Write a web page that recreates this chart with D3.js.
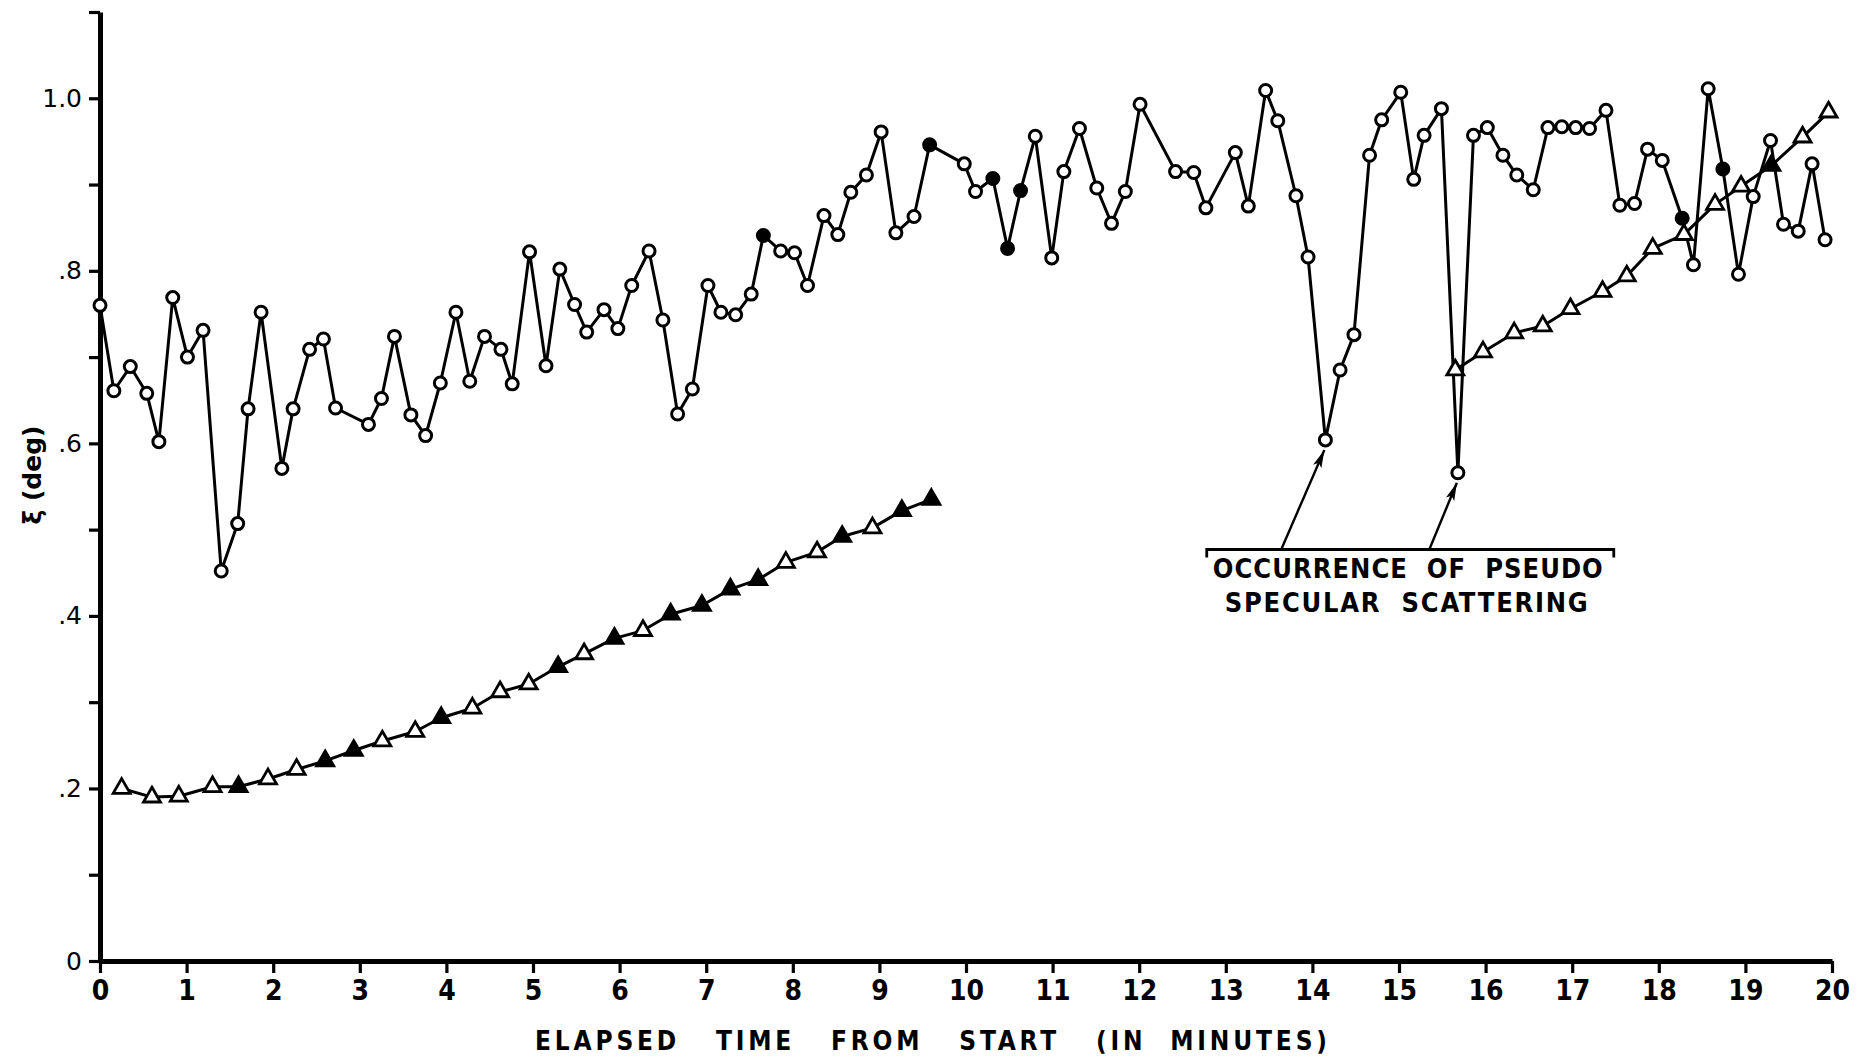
<!DOCTYPE html>
<html>
<head>
<meta charset="utf-8">
<script src="https://cdn.jsdelivr.net/npm/d3@7"></script>
<style>
  html, body { margin: 0; padding: 0; background: #fff; }
  svg { display: block; }
  .tick-y text { font-family: "DejaVu Sans", sans-serif; font-size: 25px; }
  .tick-x text { font-family: "DejaVu Sans Condensed", "Liberation Sans Narrow", "DejaVu Sans", sans-serif; font-size: 28px; font-weight: bold; }
  .label { font-family: "DejaVu Sans Condensed", "Liberation Sans Narrow", "DejaVu Sans", sans-serif; font-weight: bold; white-space: pre; }
</style>
</head>
<body>
<svg id="chart"></svg>
<script>
// Scattering angle series (open circles)
const circleTimes = [0, 0.16, 0.35, 0.54, 0.68, 0.84, 1.01, 1.19, 1.40, 1.59,
  1.71, 1.86, 2.10, 2.23, 2.42, 2.58, 2.72, 3.10, 3.25, 3.40,
  3.59, 3.76, 3.93, 4.11, 4.27, 4.44, 4.63, 4.76, 4.96, 5.15,
  5.31, 5.48, 5.62, 5.82, 5.98, 6.14, 6.34, 6.50, 6.67, 6.84,
  7.02, 7.17, 7.34, 7.52, 7.66, 7.86, 8.02, 8.17, 8.36, 8.52,
  8.67, 8.85, 9.02, 9.19, 9.40, 9.58, 9.98, 10.11, 10.31, 10.48,
  10.63, 10.80, 10.99, 11.13, 11.31, 11.51, 11.68, 11.84, 12.01, 12.42,
  12.63, 12.77, 13.11, 13.26, 13.46, 13.60, 13.81, 13.95, 14.15, 14.32,
  14.48, 14.66, 14.80, 15.02, 15.17, 15.29, 15.49, 15.68, 15.86, 16.02,
  16.20, 16.36, 16.55, 16.72, 16.88, 17.04, 17.20, 17.39, 17.55, 17.72,
  17.87, 18.04, 18.27, 18.40, 18.57, 18.74, 18.92, 19.09, 19.29, 19.44,
  19.61, 19.77, 19.92];
const circleValues = [0.760, 0.661, 0.689, 0.658, 0.602, 0.769, 0.700, 0.731, 0.452, 0.507,
  0.640, 0.752, 0.571, 0.640, 0.709, 0.721, 0.641, 0.622, 0.652, 0.724,
  0.633, 0.609, 0.670, 0.752, 0.672, 0.724, 0.709, 0.669, 0.822, 0.690,
  0.802, 0.761, 0.729, 0.755, 0.733, 0.783, 0.823, 0.743, 0.634, 0.663,
  0.783, 0.752, 0.749, 0.773, 0.841, 0.823, 0.821, 0.783, 0.864, 0.842,
  0.891, 0.911, 0.961, 0.844, 0.863, 0.946, 0.924, 0.892, 0.907, 0.826,
  0.893, 0.956, 0.815, 0.915, 0.965, 0.896, 0.855, 0.892, 0.993, 0.915,
  0.914, 0.873, 0.937, 0.875, 1.009, 0.974, 0.887, 0.816, 0.604, 0.685,
  0.726, 0.934, 0.975, 1.007, 0.906, 0.957, 0.988, 0.566, 0.957, 0.966,
  0.934, 0.911, 0.894, 0.966, 0.967, 0.966, 0.965, 0.986, 0.876, 0.878,
  0.941, 0.928, 0.861, 0.807, 1.011, 0.918, 0.796, 0.886, 0.951, 0.854,
  0.846, 0.924, 0.836];
const circleSolidAt = [7.66, 9.58, 10.31, 10.48, 10.63, 18.27, 18.74];

// Triangle series, first run
const triTimesA = [0.25, 0.60, 0.91, 1.30, 1.60, 1.94, 2.27, 2.60, 2.93, 3.26,
  3.64, 3.94, 4.30, 4.62, 4.95, 5.29, 5.59, 5.94, 6.27, 6.59,
  6.95, 7.28, 7.60, 7.92, 8.28, 8.57, 8.92, 9.26, 9.60];
const triValuesA = [0.200, 0.190, 0.191, 0.202, 0.202, 0.211, 0.222, 0.232, 0.244, 0.255,
  0.266, 0.282, 0.293, 0.312, 0.321, 0.341, 0.356, 0.374, 0.383, 0.402,
  0.412, 0.431, 0.442, 0.462, 0.474, 0.492, 0.502, 0.522, 0.535];

// Triangle series, second run
const triTimesB = [15.65, 15.97, 16.33, 16.66, 16.98, 17.35, 17.63, 17.93, 18.29, 18.65, 18.95, 19.30, 19.66, 19.96];
const triValuesB = [0.685, 0.706, 0.728, 0.736, 0.756, 0.776, 0.794, 0.826, 0.842, 0.877, 0.898, 0.922, 0.955, 0.984];
const triSolidAt = [1.60, 2.60, 2.93, 3.94, 5.29, 5.94, 6.59, 6.95, 7.28, 7.60, 8.57, 9.26, 9.60, 19.30];

// Axis ticks
const xTicks = d3.range(0, 21);
const yTicks = [0, 0.1, 0.2, 0.3, 0.4, 0.5, 0.6, 0.7, 0.8, 0.9, 1.0, 1.1];
const yTickLabels = ["0", "", ".2", "", ".4", "", ".6", "", ".8", "", "1.0", ""];

// Annotation (data units)
const noteLines = ["OCCURRENCE  OF  PSEUDO", "SPECULAR  SCATTERING"];
const noteBracket = { t0: 12.78, t1: 17.48, v: 0.477 };
const noteArrowFrom = [13.64, 15.35];
const noteArrowTo = [14.15, 15.68];

const width = 1871;
const height = 1060;

const xScale = d3.scaleLinear().domain([0, 20]).range([100, 1832]);
const yScale = d3.scaleLinear().domain([0, 1.1]).range([961, 12]);

const svg = d3.select("#chart")
  .attr("width", width)
  .attr("height", height);

svg.append("rect")
  .attr("width", width)
  .attr("height", height)
  .attr("fill", "#fff");

svg.append("defs")
  .append("marker")
    .attr("id", "arrow")
    .attr("viewBox", "0 -5 18 10")
    .attr("refX", 18)
    .attr("refY", 0)
    .attr("markerUnits", "userSpaceOnUse")
    .attr("markerWidth", 18)
    .attr("markerHeight", 10)
    .attr("orient", "auto")
  .append("path")
    .attr("d", "M0,-4.5L18,0L0,4.5L4,0Z")
    .attr("fill", "#000");

// Axes
const leftAxis = d3.axisLeft(yScale)
  .tickValues(yTicks)
  .tickSize(11)
  .tickSizeOuter(0)
  .tickPadding(7)
  .tickFormat((d, i) => yTickLabels[i]);

const bottomAxis = d3.axisBottom(xScale)
  .tickValues(xTicks)
  .tickSize(12)
  .tickSizeOuter(0)
  .tickPadding(7)
  .tickFormat(d3.format("d"));

const gy = svg.append("g")
  .attr("class", "tick-y")
  .attr("transform", `translate(${xScale(0)},0)`)
  .call(leftAxis);

const gx = svg.append("g")
  .attr("class", "tick-x")
  .attr("transform", `translate(0,${yScale(0)})`)
  .call(bottomAxis);

[gx, gy].forEach(g => {
  g.select(".domain").attr("stroke", "#000").attr("stroke-width", 5);
  g.selectAll(".tick line").attr("stroke", "#000").attr("stroke-width", 3.2);
  g.selectAll(".tick text").attr("fill", "#000");
});

// Axis titles
svg.append("text")
  .attr("class", "label")
  .attr("x", 535)
  .attr("y", 1050)
  .attr("font-size", 26)
  .attr("textLength", 792)
  .attr("lengthAdjust", "spacing")
  .text("ELAPSED   TIME   FROM   START   (IN  MINUTES)");

svg.append("text")
  .attr("transform", "translate(41,475) rotate(-90)")
  .attr("text-anchor", "middle")
  .attr("font-family", "DejaVu Sans, sans-serif")
  .attr("font-weight", "bold")
  .attr("font-size", 25)
  .text("ξ (deg)");

// Lines
const lineGen = d3.line()
  .x(d => xScale(d.t))
  .y(d => yScale(d.v));

const zip = (ts, vs, solid) => ts.map((t, i) => ({ t, v: vs[i], solid: solid.includes(t) }));

const circleData = zip(circleTimes, circleValues, circleSolidAt);
const triDataA = zip(triTimesA, triValuesA, triSolidAt);
const triDataB = zip(triTimesB, triValuesB, triSolidAt);

[circleData, triDataA, triDataB].forEach(data => {
  svg.append("path")
    .attr("d", lineGen(data))
    .attr("fill", "none")
    .attr("stroke", "#000")
    .attr("stroke-width", 3)
    .attr("stroke-linejoin", "round");
});

// Markers
const triangle = d3.symbol().type(d3.symbolTriangle).size(125);

svg.append("g")
  .selectAll("path")
  .data(triDataA.concat(triDataB))
  .join("path")
    .attr("d", triangle)
    .attr("transform", d => `translate(${xScale(d.t)},${yScale(d.v)})`)
    .attr("fill", d => d.solid ? "#000" : "#fff")
    .attr("stroke", "#000")
    .attr("stroke-width", 2.8);

svg.append("g")
  .selectAll("circle")
  .data(circleData)
  .join("circle")
    .attr("r", 6)
    .attr("cx", d => xScale(d.t))
    .attr("cy", d => yScale(d.v))
    .attr("fill", d => d.solid ? "#000" : "#fff")
    .attr("stroke", "#000")
    .attr("stroke-width", 3);

// Annotation bracket, arrows and text
const bx0 = xScale(noteBracket.t0);
const bx1 = xScale(noteBracket.t1);
const by = yScale(noteBracket.v);

svg.append("path")
  .attr("d", `M${bx0},${by + 8}V${by}H${bx1}V${by + 8}`)
  .attr("fill", "none")
  .attr("stroke", "#000")
  .attr("stroke-width", 2.8);

noteArrowTo.forEach((t, i) => {
  const v = circleValues[circleTimes.indexOf(t)];
  svg.append("line")
    .attr("x1", xScale(noteArrowFrom[i]))
    .attr("y1", by)
    .attr("x2", xScale(t) - 1)
    .attr("y2", yScale(v) + 10)
    .attr("stroke", "#000")
    .attr("stroke-width", 2.4)
    .attr("marker-end", "url(#arrow)");
});

svg.append("text")
  .attr("class", "label")
  .attr("x", bx0 + 6)
  .attr("y", by + 29)
  .attr("font-size", 27)
  .attr("textLength", 390)
  .attr("lengthAdjust", "spacing")
  .text(noteLines[0]);

svg.append("text")
  .attr("class", "label")
  .attr("x", bx0 + 18)
  .attr("y", by + 63)
  .attr("font-size", 27)
  .attr("textLength", 363)
  .attr("lengthAdjust", "spacing")
  .text(noteLines[1]);
</script>
</body>
</html>
